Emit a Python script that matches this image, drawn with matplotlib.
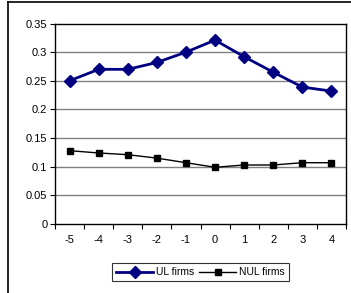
import matplotlib
matplotlib.use("Agg")
import matplotlib.pyplot as plt
from matplotlib.lines import Line2D

categories = ["-5", "-4", "-3", "-2", "-1", "0", "1", "2", "3", "4"]
ul_firms = [0.250, 0.270, 0.270, 0.282, 0.300, 0.321, 0.292, 0.265, 0.239, 0.232]
nul_firms = [0.128, 0.124, 0.121, 0.115, 0.107, 0.099, 0.103, 0.103, 0.107, 0.107]
yticks = [0, 0.05, 0.1, 0.15, 0.2, 0.25, 0.3, 0.35]
ytick_labels = ["0", "0.05", "0.1", "0.15", "0.2", "0.25", "0.3", "0.35"]

plt.rcParams['font.family'] = ['Liberation Sans', 'DejaVu Sans']

fig = plt.figure(figsize=(3.51, 2.93), dpi=100)
ax = fig.add_axes([55/351, 1-224/293, (346-55)/351, (224-23.5)/293])

x = list(range(len(categories)))
ax.plot(x, ul_firms, color="#000080", lw=2, marker="D", markersize=6.5, label="UL firms", zorder=3)
ax.plot(x, nul_firms, color="black", lw=1, marker="s", markersize=4.5, label="NUL firms", zorder=3)

ax.set_xlim(-0.5, len(categories) - 0.5)
ax.set_ylim(0, 0.35)
ax.set_yticks(yticks)
ax.set_yticklabels(ytick_labels, fontsize=8)
ax.set_xticks(x)
ax.set_xticklabels(categories, fontsize=8)
ax.set_xticks([i - 0.5 for i in range(len(categories) + 1)], minor=True)
ax.tick_params(axis='x', which='major', length=0, pad=8)
ax.tick_params(axis='x', which='minor', length=3.5, direction='out', width=0.8)
ax.tick_params(axis='y', length=3.5, direction='out', width=0.8, pad=2)
for yv in yticks[1:-1]:
    ax.axhline(yv, color="#808080", lw=1, zorder=1)
for s in ax.spines.values():
    s.set_linewidth(1)
    s.set_color("black")

leg = ax.legend(loc="upper center", bbox_to_anchor=(0.5, -0.195), ncol=2, fontsize=7.5,
                frameon=True, fancybox=False, edgecolor="black", handlelength=3.6,
                borderpad=0.4, columnspacing=0.4, handletextpad=0.3, borderaxespad=0)
leg.get_frame().set_linewidth(0.8)

# outer chart border (left and top)
fig.add_artist(Line2D([8/351, 8/351], [0, 1-2/293], color="black", lw=1.2, transform=fig.transFigure))
fig.add_artist(Line2D([8/351, 1], [1-2/293, 1-2/293], color="black", lw=1.2, transform=fig.transFigure))

fig.savefig("out.png", dpi=100)
